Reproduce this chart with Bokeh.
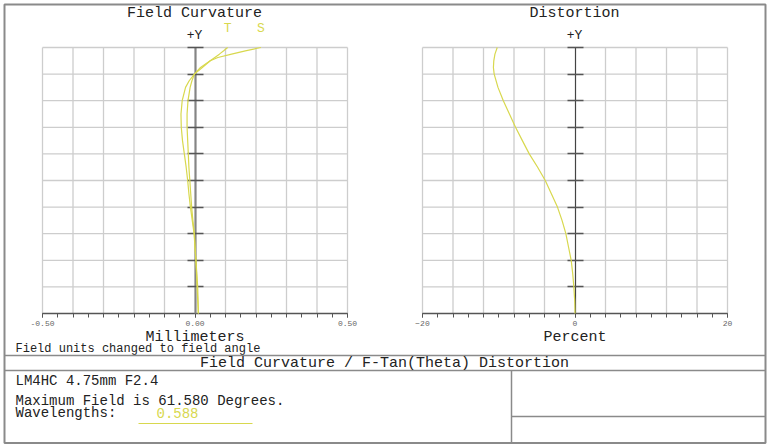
from bokeh.plotting import figure
from bokeh.models import Range1d, FixedTicker, LinearAxis, PrintfTickFormatter
from bokeh.embed import file_html
from bokeh.resources import INLINE
from bokeh.core.properties import value

FONT = "Liberation Mono"
YEL = "#d8d84e"
GRID = "#cdcdcd"
INK = "#222222"

# ---------------- data ----------------
# normalized field (0 = on axis, 1 = maximum field 61.58 deg)
fc_field = [0, 0.05, 0.1, 0.15, 0.2, 0.25, 0.3, 0.35, 0.4, 0.45, 0.5, 0.55, 0.6, 0.65,
            0.7, 0.75, 0.8, 0.85, 0.875, 0.9, 0.925, 0.95, 0.9625, 0.975, 0.9875, 1.0]
sagittal = [0.011, 0.010, 0.0088, 0.006, 0.003, 0.000, -0.003, -0.009, -0.015, -0.020,
            -0.024, -0.029, -0.035, -0.041, -0.045, -0.046, -0.042, -0.031, -0.019,
            -0.002, 0.018, 0.050, 0.075, 0.120, 0.165, 0.216]
tangential = [0.011, 0.009, 0.0066, 0.005, 0.003, 0.000, -0.002, -0.007, -0.011, -0.014,
              -0.017, -0.020, -0.022, -0.024, -0.026, -0.026, -0.023, -0.016, -0.010,
              -0.002, 0.024, 0.050, 0.065, 0.080, 0.094, 0.107]

dist_field = [0, 0.05, 0.1, 0.15, 0.2, 0.25, 0.3, 0.35, 0.4, 0.45, 0.5, 0.55, 0.6, 0.65,
              0.7, 0.75, 0.8, 0.85, 0.9, 0.925, 0.95, 0.975, 1.0]
distortion = [0, -0.04, -0.15, -0.3, -0.5, -0.85, -1.2, -1.7, -2.3, -3.1, -3.9, -4.9,
              -6.0, -6.9, -7.8, -8.6, -9.4, -10.1, -10.6, -10.7, -10.65, -10.5, -10.2]

fc_major = [-0.5, 0.0, 0.5]
fc_minor = [-0.5, -0.45, -0.4, -0.35, -0.3, -0.25, -0.2, -0.15, -0.1, -0.05, 0.0,
            0.05, 0.1, 0.15, 0.2, 0.25, 0.3, 0.35, 0.4, 0.45, 0.5]
fc_grid = [-0.5, -0.4, -0.3, -0.2, -0.1, 0.1, 0.2, 0.3, 0.4, 0.5]

di_major = [-20, 0, 20]
di_minor = [-20, -18, -16, -14, -12, -10, -8, -6, -4, -2, 0, 2, 4, 6, 8, 10, 12, 14,
            16, 18, 20]
di_grid = [-20, -16, -12, -8, -4, 4, 8, 12, 16, 20]

field_grid = [0.1, 0.2, 0.3, 0.4, 0.5, 0.6, 0.7, 0.8, 0.9, 1.0]

# ---------------- layout (page pixels) ----------------
W, H = 768, 446
FC_PX = (42, 347)      # x pixels of -0.5 .. 0.5 mm
DI_PX = (422, 727)     # x pixels of -20 .. 20 %
FIELD_PX = (313, 47)   # y pixels of field 0 .. 1


def x_extra(v0, v1, p0, p1):
    s = (v1 - v0) / (p1 - p0)
    return Range1d(start=v0 - p0 * s, end=v0 + (W - p0) * s)


def y_extra(v0, v1, p0, p1):
    s = (v1 - v0) / (p0 - p1)
    return Range1d(start=v0 - (H - p0) * s, end=v0 + p0 * s)


p = figure(width=W, height=H, x_range=Range1d(0, W), y_range=Range1d(H, 0),
           output_backend="svg", toolbar_location=None, min_border=0,
           x_axis_location=None, y_axis_location=None)
p.grid.visible = False
p.outline_line_color = None
p.background_fill_color = "white"
p.border_fill_color = "white"

p.extra_x_ranges = {"fc": x_extra(-0.5, 0.5, *FC_PX), "di": x_extra(-20, 20, *DI_PX)}
p.extra_y_ranges = {"field": y_extra(0, 1, *FIELD_PX)}


def chart(xname, xbounds, major, minor, grid, fmt, xlabel, axis_color, axis_w):
    n, m = len(grid), len(field_grid)
    # grid lines (vertical at grid values, horizontal at field values)
    p.segment(x0=grid, y0=[0] * n, x1=grid, y1=[1] * n, x_range_name=xname,
              y_range_name="field", line_color=GRID, line_width=1.3, level="underlay")
    p.segment(x0=[xbounds[0]] * m, y0=field_grid, x1=[xbounds[1]] * m, y1=field_grid,
              x_range_name=xname, y_range_name="field", line_color=GRID,
              line_width=1.3, level="underlay")
    # bottom axis
    ax = LinearAxis(x_range_name=xname, y_range_name="field", fixed_location=0,
                    bounds=xbounds, ticker=FixedTicker(ticks=major, minor_ticks=minor))
    if fmt is not None:
        ax.formatter = PrintfTickFormatter(format=fmt)
    ax.major_tick_in = 0
    ax.major_tick_out = 4
    ax.minor_tick_in = 0
    ax.minor_tick_out = 4
    ax.axis_line_color = "#555555"
    ax.axis_line_width = 1.5
    ax.major_tick_line_color = "#555555"
    ax.minor_tick_line_color = "#555555"
    ax.major_label_text_font = FONT
    ax.major_label_text_font_size = "8px"
    ax.major_label_text_color = "#666666"
    ax.major_label_standoff = 3
    ax.axis_label = xlabel
    ax.axis_label_text_font = FONT
    ax.axis_label_text_font_size = "15px"
    ax.axis_label_text_font_style = "normal"
    ax.axis_label_text_color = INK
    ax.axis_label_standoff = 0
    p.add_layout(ax, "below")
    # central +Y axis: line with unlabeled ticks at every field grid line
    ay = LinearAxis(x_range_name=xname, y_range_name="field", fixed_location=0,
                    bounds=(0, 1), ticker=FixedTicker(ticks=[], minor_ticks=field_grid))
    ay.axis_line_color = axis_color
    ay.axis_line_width = axis_w
    ay.minor_tick_in = 8
    ay.minor_tick_out = 8
    ay.minor_tick_line_color = "#555555"
    ay.minor_tick_line_width = 1.3
    ay.major_tick_in = 0
    ay.major_tick_out = 0
    p.add_layout(ay, "left")


chart("fc", (-0.5, 0.5), fc_major, fc_minor, fc_grid, "%.2f", "Millimeters",
      "#858585", 2.2)
chart("di", (-20, 20), di_major, di_minor, di_grid, None, "Percent", "#444444", 1.2)

# curves
for xs in (tangential, sagittal):
    p.line(xs, fc_field, x_range_name="fc", y_range_name="field",
           line_color=YEL, line_width=1.2, level="annotation")
p.line(distortion, dist_field, x_range_name="di", y_range_name="field",
       line_color=YEL, line_width=1.2, level="annotation")

# chart titles and markers
p.text(x=[194, 574], y=[13, 13], text=["Field Curvature", "Distortion"],
       text_font=value(FONT), text_font_size="15px", text_align="center",
       text_baseline="middle", text_color=INK)
p.text(x=[194, 574], y=[35, 35], text=["+Y", "+Y"], text_font=value(FONT),
       text_font_size="13px", text_align="center", text_baseline="middle",
       text_color=INK)
p.text(x=[tangential[-1], sagittal[-1]], y=[1.071, 1.071], text=["T", "S"],
       x_range_name="fc", y_range_name="field", text_font=value(FONT),
       text_font_size="13px", text_align="center", text_baseline="middle",
       text_color=YEL)
p.text(x=[15], y=[348], text=["Field units changed to field angle"],
       text_font=value(FONT), text_font_size="12px", text_align="left",
       text_baseline="middle", text_color=INK)

# frame and info box
p.quad(left=[4], right=[765], top=[4], bottom=[442.5], fill_color=None,
       line_color="#8a8a8a", line_width=2)
p.segment(x0=[4, 4, 511, 511], y0=[355, 370, 370, 416],
          x1=[765, 765, 511, 765], y1=[355, 370, 442.5, 416],
          line_color="#8a8a8a", line_width=1.5)
p.segment(x0=[138], y0=[423], x1=[252], y1=[423], line_color=YEL, line_width=1)
p.text(x=[384], y=[363], text=["Field Curvature / F-Tan(Theta) Distortion"],
       text_font=value(FONT), text_font_size="15px", text_align="center",
       text_baseline="middle", text_color=INK)
p.text(x=[15, 15, 15], y=[380, 400, 412],
       text=["LM4HC 4.75mm F2.4", "Maximum Field is 61.580 Degrees.", "Wavelengths:"],
       text_font=value(FONT), text_font_size="14px", text_align="left",
       text_baseline="middle", text_color=INK)
p.text(x=[156], y=[412], text=["0.588"], text_font=value(FONT), text_font_size="14px",
       text_align="left", text_baseline="middle", text_color=YEL)

open("out.html", "w").write(file_html(p, INLINE))
